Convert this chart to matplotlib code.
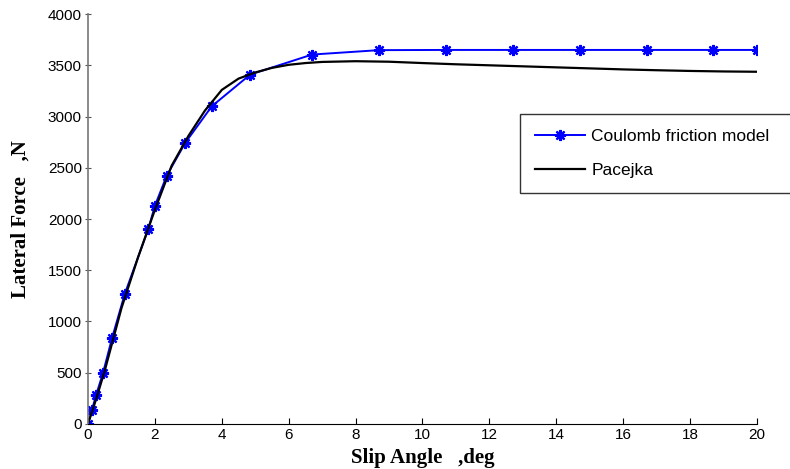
import matplotlib
matplotlib.use("Agg")
import matplotlib.pyplot as plt

# Coulomb friction model (markers)
coulomb_x = [0, 0.12, 0.24, 0.45, 0.72, 1.1, 1.8, 2.0, 2.35, 2.9, 3.7, 4.85,
             6.7, 8.7, 10.7, 12.7, 14.7, 16.7, 18.7, 20]
coulomb_y = [0, 140, 280, 500, 840, 1270, 1900, 2130, 2420, 2740, 3100, 3410,
             3605, 3648, 3650, 3650, 3650, 3650, 3650, 3650]

# Pacejka curve
pacejka_x = [0, 0.25, 0.5, 1, 1.5, 2, 2.5, 3, 3.5, 4, 4.5, 5, 5.5, 6, 6.5, 7,
             8, 9, 10, 11, 12, 13, 14, 15, 16, 17, 18, 19, 20]
pacejka_y = [0, 250, 520, 1130, 1630, 2090, 2520, 2810, 3060, 3260, 3370, 3430,
             3475, 3505, 3522, 3533, 3540, 3535, 3522, 3510, 3500, 3490, 3480,
             3470, 3460, 3452, 3445, 3440, 3437]

xticks = list(range(0, 21, 2))
yticks = list(range(0, 4001, 500))

fig = plt.figure(figsize=(7.9, 4.69), dpi=100)
ax = fig.add_axes([0.1114, 0.096, 0.8468, 0.874])

ax.plot(coulomb_x, coulomb_y, "-", color="#0000ff", lw=1.4,
        marker=(8, 2, 0), ms=8, mew=1.6, label="Coulomb friction model")
ax.plot(pacejka_x, pacejka_y, "-", color="black", lw=1.6, label="Pacejka")

ax.set_xlim(0, 20)
ax.set_ylim(0, 4000)
ax.set_xticks(xticks)
ax.set_yticks(yticks)

ax.spines["top"].set_visible(False)
ax.spines["right"].set_visible(False)
ax.spines["left"].set_color("#777777")
ax.spines["left"].set_linewidth(1.2)
ax.spines["bottom"].set_color("black")

ax.tick_params(axis="x", direction="in", length=4, labelsize=11, pad=3)
ax.tick_params(axis="y", direction="inout", length=5, color="#555555", labelsize=11, pad=2)
for lab in ax.get_xticklabels() + ax.get_yticklabels():
    lab.set_family("Liberation Sans")

ax.set_xlabel("Slip Angle   ,deg", family="Liberation Serif", fontweight="bold",
              fontsize=15, labelpad=4)
ax.set_ylabel("Lateral Force   ,N", family="Liberation Serif", fontweight="bold",
              fontsize=15, labelpad=12)

# legend box runs past the right edge of the figure, as in the original
leg = ax.legend(loc="upper left",
                bbox_to_anchor=(520 / 790, 1 - 190 / 469, 300 / 790, 76 / 469),
                bbox_transform=fig.transFigure, mode="expand",
                frameon=True, fancybox=False, edgecolor="black",
                prop={"family": "Liberation Sans", "size": 12.5},
                handlelength=2.9, handletextpad=0.35, borderpad=0.85,
                labelspacing=1.1, borderaxespad=0)
leg.get_frame().set_linewidth(1.0)
leg.set_clip_on(False)

fig.savefig("out.png", dpi=100)
